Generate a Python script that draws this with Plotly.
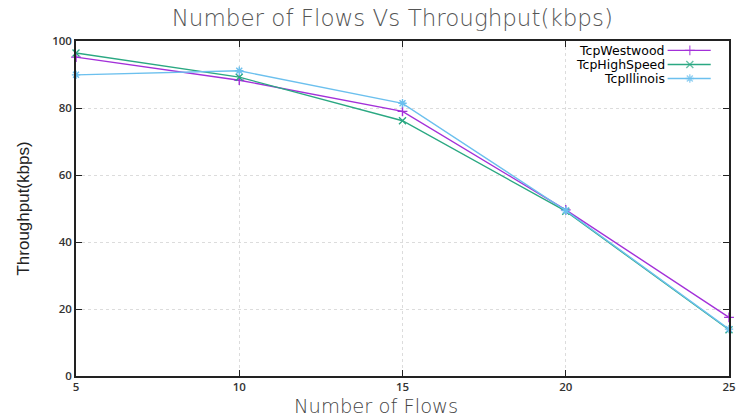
import plotly.graph_objects as go

# Throughput measurements per TCP variant
flows = [5, 10, 15, 20, 25]
westwood = [95.2, 88.3, 79.0, 49.6, 17.5]
highspeed = [96.4, 89.2, 76.2, 49.2, 13.8]
illinois = [89.9, 91.1, 81.4, 49.4, 14.0]

names = ["TcpWestwood", "TcpHighSpeed", "TcpIllinois"]
colors = ["#a330d9", "#2aa882", "#6cc0ee"]
symbols = ["cross-thin", "x-thin", "asterisk"]
series = [westwood, highspeed, illinois]

x_ticks = [5, 10, 15, 20, 25]
y_ticks = [0, 20, 40, 60, 80, 100]

fig = go.Figure()
for name, vals, col, sym in zip(names, series, colors, symbols):
    fig.add_trace(go.Scatter(
        x=flows, y=vals, mode="lines+markers", name=name,
        line=dict(color=col, width=1.4),
        marker=dict(symbol=sym, size=7, line=dict(color=col, width=1.4), color=col),
        cliponaxis=False, showlegend=False,
    ))

# Key drawn top-right: label text on the left, sample line on the right
key_y = [0.972, 0.930, 0.888]
for name, col, sym, ky in zip(names, colors, symbols, key_y):
    fig.add_trace(go.Scatter(
        x=[0.906, 0.94, 0.972], y=[ky, ky, ky], xaxis="x2", yaxis="y2",
        mode="lines+markers", line=dict(color=col, width=1.4),
        marker=dict(symbol=sym, size=[0, 7, 0], line=dict(color=col, width=1.4), color=col),
        showlegend=False, hoverinfo="skip",
    ))
    fig.add_annotation(x=0.904, y=ky, xref="x2", yref="y2", text=name,
                       xanchor="right", yanchor="middle", showarrow=False,
                       borderpad=0,
                       font=dict(family="DejaVu Sans", size=12.5, color="#000"))

# Horizontal axis caption, placed slightly left of the plot centre
fig.add_annotation(x=0.459, y=-0.091, xref="paper", yref="paper",
                   text="Number of Flows", showarrow=False,
                   xanchor="center", yanchor="middle", borderpad=0,
                   font=dict(family="DejaVu Sans", size=19.5, color="#444", weight=300))

axis_common = dict(
    showline=True, linecolor="#222", linewidth=1.5, mirror="ticks",
    ticks="inside", ticklen=6, tickcolor="#222", tickwidth=1.2,
    showgrid=True, gridcolor="#dcdcdc", griddash="dot", gridwidth=1,
    zeroline=False, automargin=False,
    tickfont=dict(family="Open Sans", size=11.5, color="#333", weight=600),
)

fig.update_layout(
    width=736, height=417,
    margin=dict(l=76, r=7, t=41, b=41),
    paper_bgcolor="white", plot_bgcolor="white",
    title=dict(text="Number of Flows Vs Throughput(kbps)", x=0.533, xanchor="center",
               y=0.958, yanchor="middle",
               font=dict(family="DejaVu Sans", size=23, color="#555", weight=300)),
    xaxis=dict(range=[5, 25], tickvals=x_ticks, ticklabelstandoff=-1, **axis_common),
    yaxis=dict(range=[0, 100], tickvals=y_ticks,
               title=dict(text="Throughput(kbps)", standoff=18,
                          font=dict(family="Liberation Sans Narrow, Liberation Sans", size=17, color="#222")),
               **axis_common),
    xaxis2=dict(overlaying="x", range=[0, 1], visible=False, fixedrange=True),
    yaxis2=dict(overlaying="y", range=[0, 1], visible=False, fixedrange=True),
)

fig.write_html("out.html")
